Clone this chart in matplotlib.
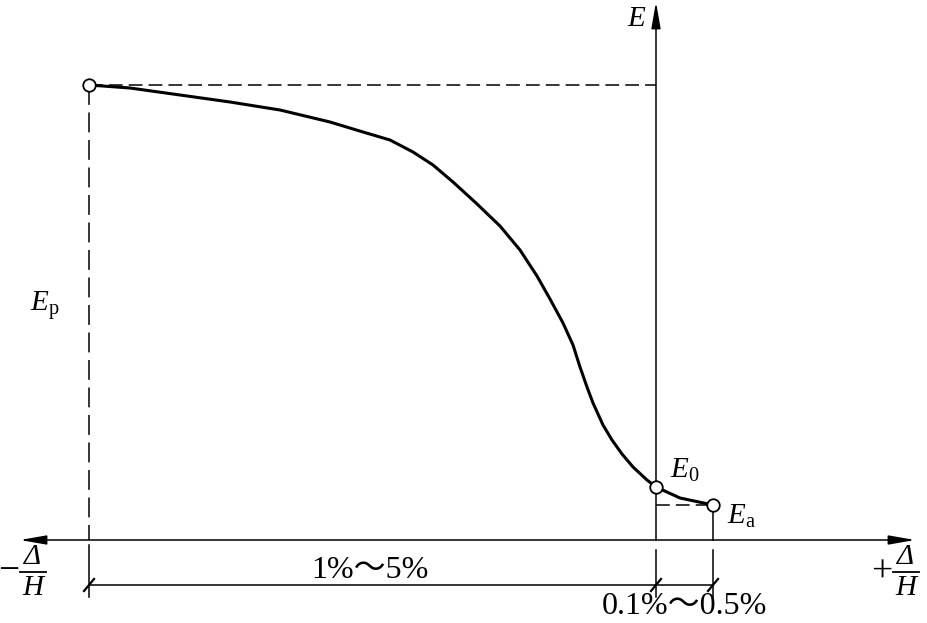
import matplotlib
matplotlib.use("Agg")
import matplotlib.pyplot as plt

plt.rcParams['font.family'] = ['Liberation Serif', 'Noto Sans CJK SC']
plt.rcParams['mathtext.fontset'] = 'custom'
plt.rcParams['mathtext.rm'] = 'Liberation Serif'
plt.rcParams['mathtext.it'] = 'Liberation Serif:italic'

# schematic E - displacement curve (x: displacement, y: earth pressure)
curve_x = [-567, -526, -476, -426, -376, -326, -293, -266, -243, -223, -203, -180,
           -156, -136, -119, -106, -93, -83, -76, -69, -63, -53, -44, -34, -23, -9,
           0, 24, 57]
curve_y = [455, 452, 445, 438, 430, 418, 408, 400, 388, 375, 358, 337,
           314, 290, 264, 241, 217, 195, 173, 153, 137, 115, 100, 86, 73, 60,
           53, 42, 35]

# special points: passive, at rest, active
pt_names = ['$E_\\mathrm{p}$', '$E_0$', '$E_\\mathrm{a}$']
pt_x = [-567, 0, 57]
pt_y = [455, 53, 35]

x_min, x_max = -636, 259
y_top = 538
dim_y = -45

fig = plt.figure(figsize=(9.28, 6.23), dpi=100)
ax = fig.add_axes([0, 0, 1, 1])
ax.set_xlim(-656, 272)
ax.set_ylim(-83, 540)
ax.set_axis_off()

arrow = dict(arrowstyle='-|>,head_length=1.6,head_width=0.28', lw=1.1,
             color='black', shrinkA=0, shrinkB=0)
# axes with arrows
ax.annotate('', xy=(0, y_top), xytext=(0, 0), arrowprops=arrow)
ax.annotate('', xy=(x_max, 0), xytext=(0, 0), arrowprops=arrow)
ax.annotate('', xy=(x_min, 0), xytext=(0, 0), arrowprops=arrow)

# dashed guide lines
ax.plot([pt_x[0], 0], [pt_y[0], pt_y[0]], color='black', lw=1.1, dashes=(9, 4))
ax.plot([pt_x[0], pt_x[0]], [pt_y[0], 0], color='black', lw=1.1, dashes=(13, 5))
ax.plot([0, pt_x[2]], [pt_y[2], pt_y[2]], color='black', lw=1.1, dashes=(9, 4))
ax.plot([pt_x[2], pt_x[2]], [pt_y[2], 0], color='black', lw=1.1)

# curve
ax.plot(curve_x, curve_y, color='black', lw=2.2, solid_capstyle='round',
        solid_joinstyle='round')
ax.plot(pt_x, pt_y, 'o', ms=9, mfc='white', mec='black', mew=1.3, zorder=5)

# dimension lines below the axis
ax.plot([pt_x[0], pt_x[0]], [-5, -57], color='black', lw=1.1)
ax.plot([0, 0], [-10, -57], color='black', lw=1.1)
ax.plot([pt_x[2], pt_x[2]], [-10, -57], color='black', lw=1.1)
ax.plot([pt_x[0], pt_x[2]], [dim_y, dim_y], color='black', lw=1.1)
for xv in [pt_x[0], 0, pt_x[2]]:
    ax.plot([xv - 5, xv + 5], [dim_y - 6, dim_y + 6], color='black', lw=1.6)

# labels
ax.text(-19, 521, '$E$', fontsize=21, ha='center', va='center')
ax.text(-611, 235, pt_names[0], fontsize=21, ha='center', va='center')
ax.text(14, 70, pt_names[1], fontsize=21, ha='left', va='center')
ax.text(71, 24, pt_names[2], fontsize=21, ha='left', va='center')
ax.text(-286, -30, '1%～5%', fontsize=23, ha='center', va='center')
ax.text(28, -66, '0.1%～0.5%', fontsize=23, ha='center', va='center')

# -Δ/H and +Δ/H built as stacked fractions
for sign, sx, fx in [('−', -647, -623), ('+', 226, 250)]:
    ax.text(sx, -32, sign, fontsize=27, ha='center', va='center')
    ax.text(fx, -17, 'Δ', fontsize=21, style='italic', ha='center', va='center')
    ax.plot([fx - 13, fx + 13], [-32, -32], color='black', lw=1.3)
    ax.text(fx, -48, 'H', fontsize=21, style='italic', ha='center', va='center')

fig.savefig('out.png', dpi=100)
